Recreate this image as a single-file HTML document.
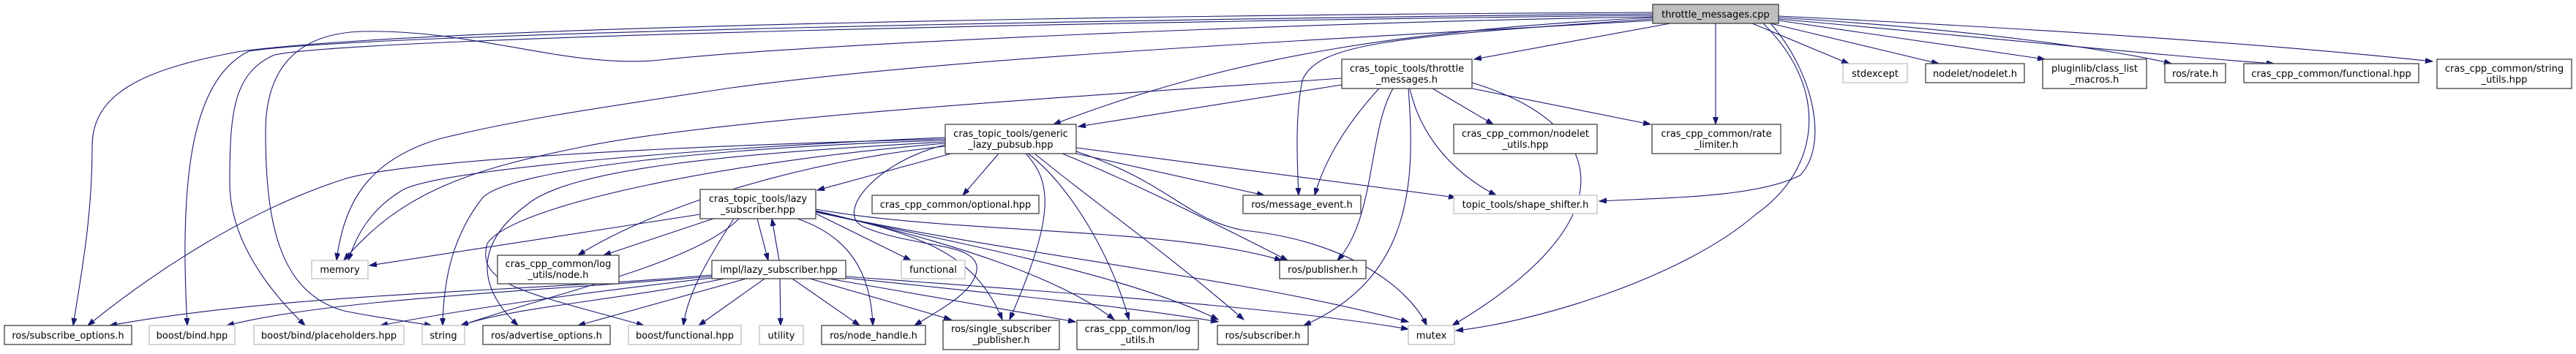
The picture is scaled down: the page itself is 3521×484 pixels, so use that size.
<!DOCTYPE html>
<html><head><meta charset="utf-8"><style>
html,body{margin:0;padding:0;background:#fff;}
svg{display:block;}
text{font-family:"DejaVu Sans","Liberation Sans",sans-serif;font-size:13px;fill:#000;text-anchor:middle;}
.e{fill:none;stroke:#191970;stroke-width:1.1;marker-end:url(#a);}
.n{fill:#fff;stroke:#404040;stroke-width:1.3;}
.g{fill:#fff;stroke:#bfbfbf;stroke-width:1.3;}
</style></head><body>
<svg width="3521" height="484" viewBox="0 0 3521 484" xmlns="http://www.w3.org/2000/svg">
<defs><marker id="a" markerUnits="userSpaceOnUse" markerWidth="11" markerHeight="8" refX="10" refY="3.5" orient="auto"><path d="M0,0 L10,3.5 L0,7 z" fill="#191970" stroke="#191970"/></marker></defs>

<!-- edges from throttle_messages.cpp -->
<path class="e" d="M2283,32 L2015,81"/>
<path class="e" d="M2345,32 L2345,170"/>
<path class="e" d="M2259,24 C1950,40 1700,70 1440,170"/>
<path class="e" d="M2259,26 C1900,50 1800,60 1780,110 C1770,160 1773,220 1775,267"/>
<path class="e" d="M2420,32 C2480,100 2500,200 2460,240 C2400,270 2280,270 2186,275"/>
<path class="e" d="M2410,32 C2500,120 2490,230 2400,293 C2300,380 2100,440 1990,452"/>
<path class="e" d="M2395,32 L2527,87"/>
<path class="e" d="M2420,32 L2650,87"/>
<path class="e" d="M2431,28 L2795,81"/>
<path class="e" d="M2431,24 C2700,40 2900,70 2968,87"/>
<path class="e" d="M2431,26 C2700,50 3000,80 3108,87"/>
<path class="e" d="M2431,22 C2800,40 3100,60 3325,84"/>
<path class="e" d="M2259,17 C1600,20 600,35 330,70 C190,95 126,130 126,200 C126,300 110,380 100,445"/>
<path class="e" d="M2259,19 C1600,25 500,45 340,70 C260,110 245,250 256,445"/>
<path class="e" d="M2259,21 C1600,28 500,50 375,75 C320,100 314,150 314,250 C314,330 370,400 417,445"/>
<path class="e" d="M2259,23 C1800,30 1100,60 903,82 C780,95 650,40 497,43 C400,45 363,100 363,180 C363,300 380,400 470,425 C520,435 560,440 590,445"/>
<path class="e" d="M2259,28 C1700,60 1300,80 1000,120 C800,150 700,165 600,190 C500,220 470,280 460,356"/>

<!-- throttle_messages.h -->
<path class="e" d="M1834,116 L1474,173"/>
<path class="e" d="M1885,121 C1840,170 1810,220 1797,267"/>
<path class="e" d="M1904,121 C1870,180 1880,300 1828,356"/>
<path class="e" d="M1958,121 L2041,170"/>
<path class="e" d="M2012,121 L2256,170"/>
<path class="e" d="M1927,121 C1940,180 1980,233 2045,267"/>
<path class="e" d="M1925,121 C1935,250 1930,380 1782,445"/>
<path class="e" d="M2012,113 C2200,170 2230,300 1985,445"/>
<path class="e" d="M1834,107 C1500,130 1000,160 800,200 C650,230 550,260 470,356"/>

<!-- generic_lazy_pubsub -->
<path class="e" d="M1365,210 L1316,267"/>
<path class="e" d="M1471,210 L1728,267"/>
<path class="e" d="M1471,202 L1990,270"/>
<path class="e" d="M1452,210 C1550,250 1650,300 1760,356"/>
<path class="e" d="M1471,207 C1600,250 1620,300 1700,315 C1850,330 1930,400 1950,445"/>
<path class="e" d="M1414,210 C1500,280 1600,350 1700,437"/>
<path class="e" d="M1405,210 C1460,250 1520,350 1543,437"/>
<path class="e" d="M1402,210 C1440,250 1440,300 1380,437"/>
<path class="e" d="M1292,198 C1200,220 1140,290 1180,310 C1250,340 1340,330 1335,370 C1330,400 1290,420 1250,445"/>
<path class="e" d="M1300,210 L1117,260"/>
<path class="e" d="M1292,200 C1100,220 900,280 790,349"/>
<path class="e" d="M1292,196 C1000,220 700,280 666,333 C650,390 720,400 880,445"/>
<path class="e" d="M1292,194 C1000,210 780,230 720,280 C640,340 660,400 708,445"/>
<path class="e" d="M1292,192 C1000,200 700,230 660,270 C620,320 606,380 605,445"/>
<path class="e" d="M1292,188 C1000,200 600,230 550,260 C500,290 485,330 476,356"/>
<path class="e" d="M1292,190 C900,200 550,220 470,245 C330,290 200,380 120,445"/>

<!-- lazy_subscriber -->
<path class="e" d="M957,293 L505,363"/>
<path class="e" d="M975,299 L825,349"/>
<path class="e" d="M1035,299 L1050,356"/>
<path class="e" d="M1065,356 L1055,299"/>
<path class="e" d="M1115,292 L1245,356"/>
<path class="e" d="M1115,286 C1300,320 1600,310 1752,356"/>
<path class="e" d="M1115,288 C1250,320 1330,340 1370,437"/>
<path class="e" d="M1115,289 C1300,330 1450,380 1523,437"/>
<path class="e" d="M1115,290 C1350,340 1550,380 1665,437"/>
<path class="e" d="M1115,290 C1400,350 1700,380 1925,440"/>
<path class="e" d="M1010,299 C950,360 760,400 630,445"/>
<path class="e" d="M1003,299 C970,350 940,400 934,445"/>
<path class="e" d="M1090,299 C1150,320 1190,360 1193,445"/>

<!-- impl/lazy_subscriber -->
<path class="e" d="M973,376 C700,400 400,400 150,445"/>
<path class="e" d="M973,378 C700,400 450,410 310,445"/>
<path class="e" d="M973,380 C800,400 650,420 520,445"/>
<path class="e" d="M990,381 C850,410 700,420 630,445"/>
<path class="e" d="M1020,381 L790,445"/>
<path class="e" d="M1045,381 L955,445"/>
<path class="e" d="M1066,381 L1067,445"/>
<path class="e" d="M1083,381 L1175,445"/>
<path class="e" d="M1107,381 L1300,437"/>
<path class="e" d="M1133,381 L1470,440"/>
<path class="e" d="M1156,380 C1350,400 1550,420 1665,440"/>
<path class="e" d="M1156,378 C1450,400 1750,420 1925,450"/>

<!-- nodes -->
<rect x="2259" y="6" width="172" height="26" fill="#bfbfbf" stroke="#404040" stroke-width="1.3"/>
<text x="2345" y="24">throttle_messages.cpp</text>

<rect class="n" x="1834" y="81" width="178" height="40"/>
<text x="1923" y="98">cras_topic_tools/throttle</text><text x="1923" y="113">_messages.h</text>

<rect class="g" x="2519" y="87" width="88" height="26"/><text x="2563" y="105">stdexcept</text>
<rect class="n" x="2632" y="87" width="135" height="26"/><text x="2699.5" y="105">nodelet/nodelet.h</text>
<rect class="n" x="2792" y="81" width="142" height="40"/>
<text x="2863" y="98">pluginlib/class_list</text><text x="2863" y="113">_macros.h</text>
<rect class="n" x="2959" y="87" width="83" height="26"/><text x="3000.5" y="105">ros/rate.h</text>
<rect class="n" x="3067" y="87" width="239" height="26"/><text x="3186.5" y="105">cras_cpp_common/functional.hpp</text>
<rect class="n" x="3331" y="81" width="184" height="40"/>
<text x="3423" y="98">cras_cpp_common/string</text><text x="3423" y="113">_utils.hpp</text>

<rect class="n" x="1292" y="170" width="179" height="40"/>
<text x="1381.5" y="187">cras_topic_tools/generic</text><text x="1381.5" y="202">_lazy_pubsub.hpp</text>
<rect class="n" x="1987" y="170" width="196" height="40"/>
<text x="2085" y="187">cras_cpp_common/nodelet</text><text x="2085" y="202">_utils.hpp</text>
<rect class="n" x="2258" y="170" width="176" height="40"/>
<text x="2346" y="187">cras_cpp_common/rate</text><text x="2346" y="202">_limiter.h</text>

<rect class="n" x="1192" y="267" width="228" height="25"/><text x="1306" y="284">cras_cpp_common/optional.hpp</text>
<rect class="n" x="1699" y="267" width="161" height="25"/><text x="1779.5" y="284">ros/message_event.h</text>
<rect class="g" x="1987" y="267" width="196" height="25"/><text x="2085" y="284">topic_tools/shape_shifter.h</text>

<rect class="n" x="957" y="259" width="158" height="40"/>
<text x="1036" y="276">cras_topic_tools/lazy</text><text x="1036" y="291">_subscriber.hpp</text>

<rect class="g" x="426" y="356" width="77" height="25"/><text x="464.5" y="373">memory</text>
<rect class="n" x="680" y="349" width="166" height="39"/>
<text x="763" y="365">cras_cpp_common/log</text><text x="763" y="380">_utils/node.h</text>
<rect class="n" x="973" y="356" width="183" height="25"/><text x="1064.5" y="373">impl/lazy_subscriber.hpp</text>
<rect class="g" x="1232" y="356" width="87" height="25"/><text x="1275.5" y="373">functional</text>
<rect class="n" x="1749" y="356" width="118" height="25"/><text x="1808" y="373">ros/publisher.h</text>

<rect class="n" x="6" y="445" width="174" height="26"/><text x="93" y="463">ros/subscribe_options.h</text>
<rect class="g" x="204" y="445" width="117" height="26"/><text x="262.5" y="463">boost/bind.hpp</text>
<rect class="g" x="347" y="445" width="205" height="26"/><text x="449.5" y="463">boost/bind/placeholders.hpp</text>
<rect class="g" x="577" y="445" width="58" height="26"/><text x="606" y="463">string</text>
<rect class="n" x="660" y="445" width="174" height="26"/><text x="747" y="463">ros/advertise_options.h</text>
<rect class="g" x="859" y="445" width="154" height="26"/><text x="936" y="463">boost/functional.hpp</text>
<rect class="g" x="1038" y="445" width="60" height="26"/><text x="1068" y="463">utility</text>
<rect class="n" x="1123" y="445" width="142" height="26"/><text x="1194" y="463">ros/node_handle.h</text>
<rect class="n" x="1289" y="438" width="159" height="40"/>
<text x="1368.5" y="454">ros/single_subscriber</text><text x="1368.5" y="469">_publisher.h</text>
<rect class="n" x="1472" y="438" width="166" height="40"/>
<text x="1555" y="454">cras_cpp_common/log</text><text x="1555" y="469">_utils.h</text>
<rect class="n" x="1664" y="445" width="124" height="26"/><text x="1726" y="463">ros/subscriber.h</text>
<rect class="g" x="1925" y="445" width="63" height="26"/><text x="1956.5" y="463">mutex</text>
</svg>
</body></html>
